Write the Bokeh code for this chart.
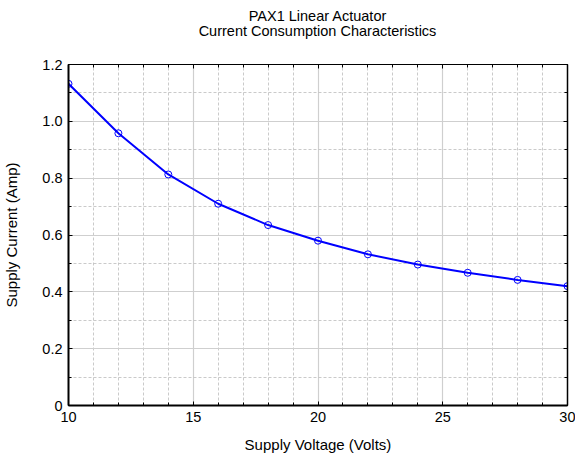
from bokeh.plotting import figure
from bokeh.models import LinearAxis, FixedTicker, Range1d, Div
from bokeh.layouts import column
from bokeh.embed import file_html
from bokeh.resources import INLINE

voltage = [10, 12, 14, 16, 18, 20, 22, 24, 26, 28, 30]
current = [1.132, 0.958, 0.813, 0.710, 0.635, 0.580, 0.532, 0.496, 0.467, 0.442, 0.420]

x_major = [10, 15, 20, 25, 30]
x_minor = list(range(10, 31))
y_major = [0, 0.2, 0.4, 0.6, 0.8, 1.0, 1.2]
y_minor = [i / 10 for i in range(0, 13)]
y_labels = {0: "0", 0.2: "0.2", 0.4: "0.4", 0.6: "0.6", 0.8: "0.8", 1.0: "1.0", 1.2: "1.2"}
x_labels = {10: "10", 15: "15", 20: "20", 25: "25", 30: "30"}
title_lines = ["PAX1 Linear Actuator", "Current Consumption Characteristics"]

FONT = "Liberation Sans"
W, H = 575, 457
TITLE_H = 40
ML, MR, MT, MB = 68, 8, 64 - TITLE_H, 52
FW = W - ML - MR

title_div = Div(
    text="<br>".join(title_lines), width=W, height=TITLE_H, margin=(0, 0, 0, 0),
    styles={"font-family": FONT, "font-size": "14.5px", "line-height": "15px",
            "text-align": "center", "color": "black", "box-sizing": "border-box",
            "padding-top": "9px", "padding-left": f"{ML}px", "padding-right": f"{MR}px",
            "width": f"{W}px"})

p = figure(width=W, height=H - TITLE_H, output_backend="svg", toolbar_location=None,
           x_range=Range1d(10, 30), y_range=Range1d(0, 1.2),
           x_axis_location=None, y_axis_location=None, title=None,
           min_border_left=ML, min_border_right=MR, min_border_top=MT, min_border_bottom=MB,
           margin=(0, 0, 0, 0))

xt = FixedTicker(ticks=x_major, minor_ticks=x_minor)
yt = FixedTicker(ticks=y_major, minor_ticks=y_minor)

def style(ax, labels):
    ax.major_tick_in = 4
    ax.major_tick_out = 0
    ax.minor_tick_in = 3
    ax.minor_tick_out = 0
    ax.axis_line_color = "black"
    ax.major_tick_line_color = "black"
    ax.minor_tick_line_color = "black"
    ax.major_label_text_font = FONT
    ax.major_label_text_font_size = "14.5px"
    ax.major_label_text_color = "black"
    ax.axis_label_text_font = FONT
    ax.axis_label_text_font_size = "15px"
    ax.axis_label_text_font_style = "normal"
    ax.axis_label_text_color = "black"
    ax.major_label_overrides = labels

bottom = LinearAxis(ticker=xt, axis_label="Supply Voltage (Volts)")
style(bottom, x_labels)
bottom.axis_line_width = 2
bottom.major_label_standoff = 6
bottom.axis_label_standoff = 11
left = LinearAxis(ticker=yt, axis_label="Supply Current (Amp)")
style(left, y_labels)
left.axis_line_width = 2
left.major_label_standoff = 6
left.axis_label_standoff = 19
top = LinearAxis(ticker=xt)
style(top, {t: "" for t in x_major})
top.major_label_standoff = 0
right = LinearAxis(ticker=yt)
style(right, {t: "" for t in y_major})
right.major_label_standoff = 0
right.axis_line_width = 1.5

p.add_layout(bottom, "below")
p.add_layout(left, "left")
p.add_layout(top, "above")
p.add_layout(right, "right")

p.outline_line_color = "black"
p.outline_line_width = 1

p.xgrid.ticker = xt
p.ygrid.ticker = yt
for g in (p.xgrid, p.ygrid):
    g.grid_line_color = "#cfcfcf"
    g.grid_line_width = 1.2
    g.minor_grid_line_color = "#bdbdbd"
    g.minor_grid_line_dash = "3 2"
    g.minor_grid_line_width = 0.8

p.line(voltage, current, line_color="#0000ff", line_width=2)
p.scatter(voltage, current, marker="circle", size=7, fill_color=None,
          line_color="#0000ff", line_width=1)

layout = column(title_div, p, spacing=0, margin=(0, 0, 0, 0))

open("out.html", "w").write(file_html(layout, INLINE))
